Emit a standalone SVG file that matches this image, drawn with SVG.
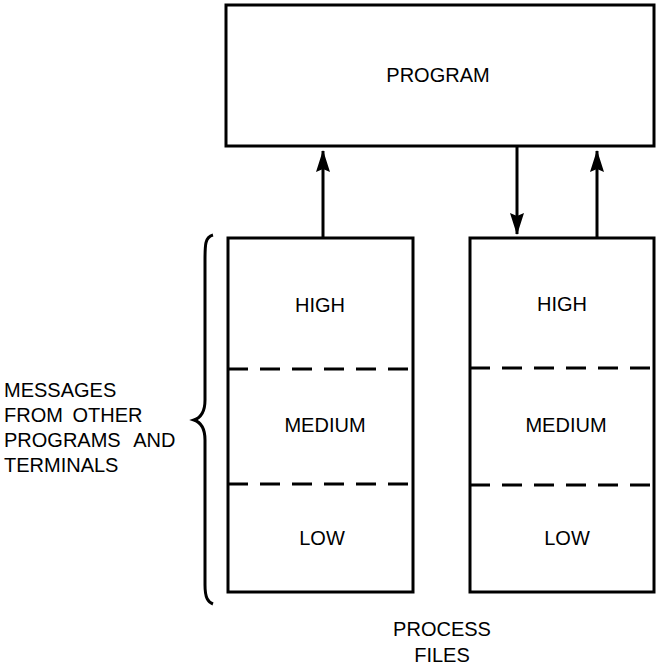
<svg xmlns="http://www.w3.org/2000/svg" width="657" height="666" viewBox="0 0 657 666">
<defs>
<marker id="ah" markerWidth="22" markerHeight="14" refX="21" refY="7" orient="auto" markerUnits="userSpaceOnUse" viewBox="0 0 22 14">
<path d="M0,0 L22,7 L0,14 L3,7 Z" fill="#000"/>
</marker>
</defs>
<style>
.box{fill:#fff;stroke:#000;stroke-width:3}
.dash{stroke:#000;stroke-width:3;stroke-dasharray:20 12;fill:none}
.conn{stroke:#000;stroke-width:3;fill:none}
text{font-family:"Liberation Sans",Arial,sans-serif;font-size:20px;fill:#000}
.c{text-anchor:middle}
</style>
<rect width="657" height="666" fill="#fff"/>
<g id="program">
<rect class="box" x="226" y="5" width="428" height="141"/>
<text class="c" x="438" y="82">PROGRAM</text>
</g>
<g id="file-left">
<rect class="box" x="228" y="238" width="185" height="354"/>
<line class="dash" x1="228" y1="369" x2="413" y2="369"/>
<line class="dash" x1="228" y1="484" x2="413" y2="484"/>
<text class="c" x="320" y="312">HIGH</text>
<text class="c" x="325" y="432">MEDIUM</text>
<text class="c" x="322" y="545">LOW</text>
</g>
<g id="file-right">
<rect class="box" x="470" y="238" width="184" height="354"/>
<line class="dash" x1="470" y1="368" x2="654" y2="368"/>
<line class="dash" x1="470" y1="485" x2="654" y2="485"/>
<text class="c" x="562" y="311">HIGH</text>
<text class="c" x="566" y="432">MEDIUM</text>
<text class="c" x="567" y="545">LOW</text>
</g>
<g id="messages">
<path d="M213,235 C205,237 205,245 205,260 L205,400 C205,412 200,418 194,420 C200,422 205,428 205,440 L205,585 C205,598 208,602 213,604" fill="none" stroke="#000" stroke-width="3"/>
<text x="4" y="397">MESSAGES</text>
<text x="4" y="422" word-spacing="4">FROM OTHER</text>
<text x="4" y="447" word-spacing="8">PROGRAMS AND</text>
<text x="4" y="472">TERMINALS</text>
</g>
<g id="process-files">
<text class="c" x="442" y="636">PROCESS</text>
<text class="c" x="442" y="662">FILES</text>
</g>
<g id="connectors">
<line class="conn" x1="323" y1="237" x2="323" y2="151" marker-end="url(#ah)"/>
<line class="conn" x1="517" y1="147" x2="517" y2="234" marker-end="url(#ah)"/>
<line class="conn" x1="597" y1="237" x2="597" y2="151" marker-end="url(#ah)"/>
</g>
</svg>
